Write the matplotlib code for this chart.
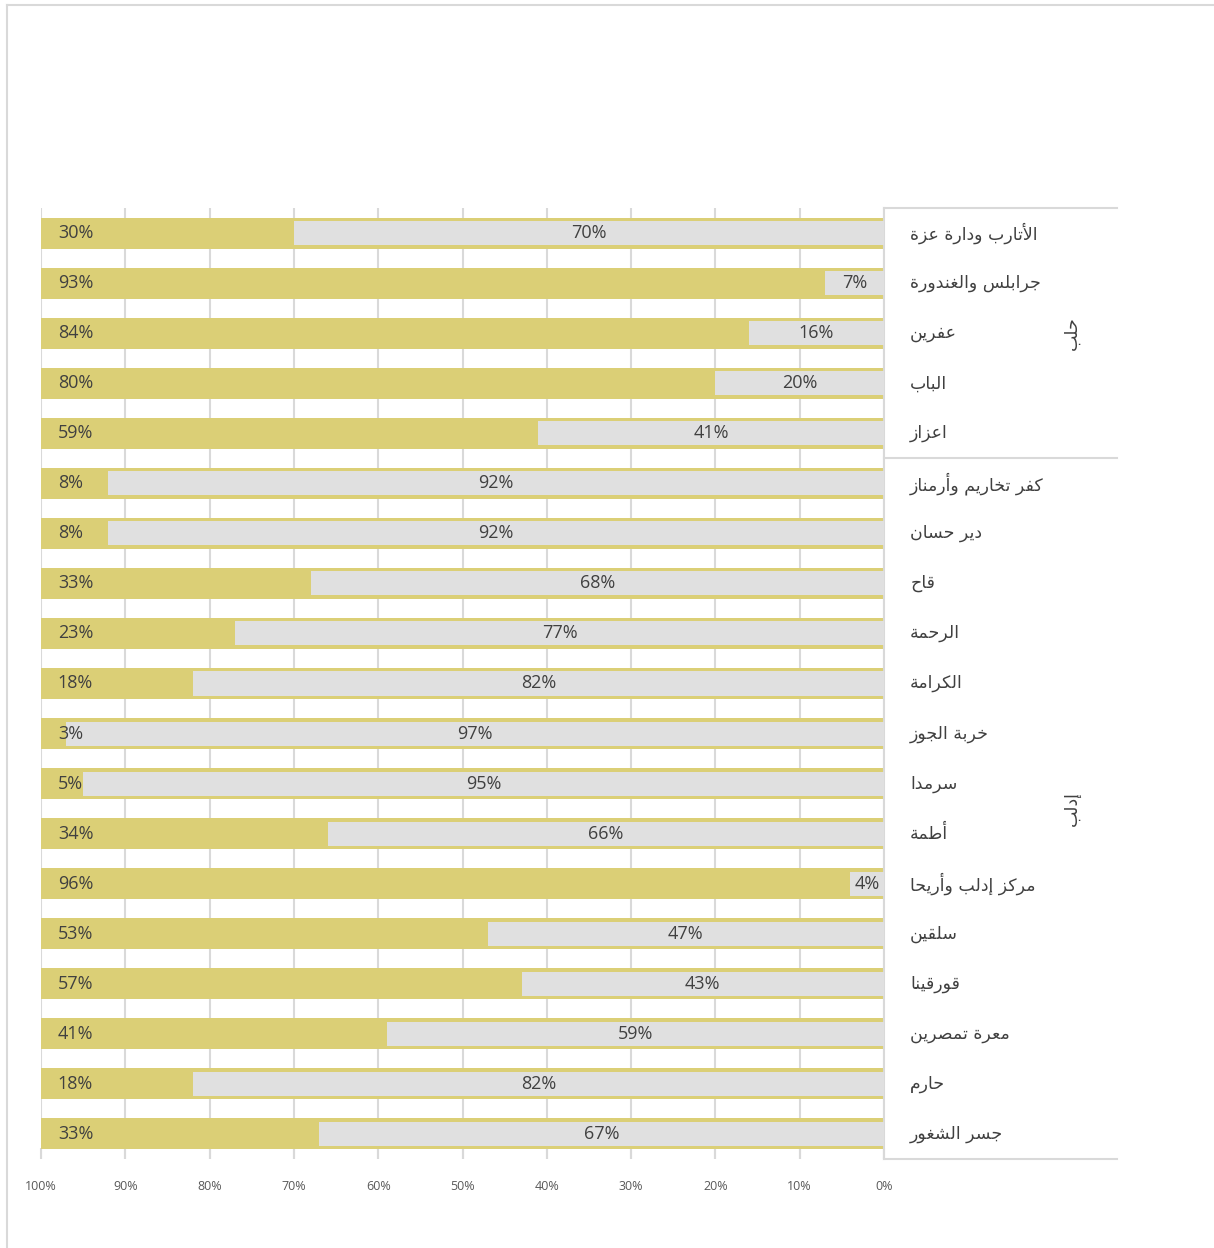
import matplotlib
matplotlib.use("Agg")
import matplotlib.pyplot as plt
from matplotlib.lines import Line2D
import matplotlib.transforms as mtransforms

# Data (top to bottom)
labels = ['الأتارب ودارة عزة', 'جرابلس والغندورة', 'عفرين', 'الباب', 'اعزاز',
          'كفر تخاريم وأرمناز', 'دير حسان', 'قاح', 'الرحمة', 'الكرامة',
          'خربة الجوز', 'سرمدا', 'أطمة', 'مركز إدلب وأريحا', 'سلقين',
          'قورقينا', 'معرة تمصرين', 'حارم', 'جسر الشغور']
gold = [30, 93, 84, 80, 59, 8, 8, 33, 23, 18, 3, 5, 34, 96, 53, 57, 41, 18, 33]
gray = [70, 7, 16, 20, 41, 92, 92, 68, 77, 82, 97, 95, 66, 4, 47, 43, 59, 82, 67]
groups = ['حلب', 'إدلب']
group_sizes = [5, 14]
ticks = [100, 90, 80, 70, 60, 50, 40, 30, 20, 10, 0]

GOLD = '#dbcf76'
GRAY = '#e0e0e0'
LINE = '#d9d9d9'
TXT = '#404040'

# Arabic shaping: matplotlib has no text shaping, so map to presentation forms
FORMS = {
    'ا': (0xFE8D, 0xFE8E, None, None), 'أ': (0xFE83, 0xFE84, None, None),
    'إ': (0xFE87, 0xFE88, None, None), 'آ': (0xFE81, 0xFE82, None, None),
    'ب': (0xFE8F, 0xFE90, 0xFE91, 0xFE92), 'ة': (0xFE93, 0xFE94, None, None),
    'ت': (0xFE95, 0xFE96, 0xFE97, 0xFE98), 'ج': (0xFE9D, 0xFE9E, 0xFE9F, 0xFEA0),
    'ح': (0xFEA1, 0xFEA2, 0xFEA3, 0xFEA4), 'خ': (0xFEA5, 0xFEA6, 0xFEA7, 0xFEA8),
    'د': (0xFEA9, 0xFEAA, None, None), 'ر': (0xFEAD, 0xFEAE, None, None),
    'ز': (0xFEAF, 0xFEB0, None, None), 'س': (0xFEB1, 0xFEB2, 0xFEB3, 0xFEB4),
    'ش': (0xFEB5, 0xFEB6, 0xFEB7, 0xFEB8), 'ص': (0xFEB9, 0xFEBA, 0xFEBB, 0xFEBC),
    'ط': (0xFEC1, 0xFEC2, 0xFEC3, 0xFEC4), 'ع': (0xFEC9, 0xFECA, 0xFECB, 0xFECC),
    'غ': (0xFECD, 0xFECE, 0xFECF, 0xFED0), 'ف': (0xFED1, 0xFED2, 0xFED3, 0xFED4),
    'ق': (0xFED5, 0xFED6, 0xFED7, 0xFED8), 'ك': (0xFED9, 0xFEDA, 0xFEDB, 0xFEDC),
    'ل': (0xFEDD, 0xFEDE, 0xFEDF, 0xFEE0), 'م': (0xFEE1, 0xFEE2, 0xFEE3, 0xFEE4),
    'ن': (0xFEE5, 0xFEE6, 0xFEE7, 0xFEE8), 'ه': (0xFEE9, 0xFEEA, 0xFEEB, 0xFEEC),
    'و': (0xFEED, 0xFEEE, None, None), 'ي': (0xFEF1, 0xFEF2, 0xFEF3, 0xFEF4),
}
LAMALEF = {'آ': (0xFEF5, 0xFEF6), 'أ': (0xFEF7, 0xFEF8),
           'إ': (0xFEF9, 0xFEFA), 'ا': (0xFEFB, 0xFEFC)}


def shape(s):
    res = []
    i = 0
    n = len(s)
    while i < n:
        c = s[i]
        if c not in FORMS:
            res.append(c)
            i += 1
            continue
        prev = s[i - 1] if i > 0 else None
        joins_prev = prev in FORMS and FORMS[prev][2] is not None
        if c == 'ل' and i + 1 < n and s[i + 1] in LAMALEF:
            iso, fin = LAMALEF[s[i + 1]]
            res.append(chr(fin if joins_prev else iso))
            i += 2
            continue
        nxt = s[i + 1] if i + 1 < n else None
        iso, fin, ini, med = FORMS[c]
        joins_next = ini is not None and nxt in FORMS
        if joins_prev and joins_next:
            g = med
        elif joins_prev:
            g = fin
        elif joins_next:
            g = ini
        else:
            g = iso
        res.append(chr(g))
        i += 1
    return ''.join(res)[::-1]


plt.rcParams['font.family'] = ['Open Sans', 'DejaVu Sans']

W, H = 1214, 1248
fig = plt.figure(figsize=(W / 100, H / 100), dpi=100)
ax = fig.add_axes([41 / W, (H - 1159) / H, 843 / W, (1159 - 208) / H])

y = list(range(len(labels)))
totals = [g + r for g, r in zip(gold, gray)]
ax.barh(y, totals, height=0.62, color=GOLD, zorder=2)
ax.barh(y, gray, height=0.48, color=GRAY, zorder=3)

for i in y:
    ax.text(98, i, f'{gold[i]}%', ha='left', va='center', fontsize=13, color=TXT, zorder=4)
    ax.text(gray[i] / 2, i, f'{gray[i]}%', ha='center', va='center', fontsize=13, color=TXT, zorder=4)

ax.set_xlim(100, 0)
ax.set_ylim(len(labels) - 0.5, -0.5)
ax.set_yticks([])
ax.set_xticks(ticks)
ax.set_xticklabels([f'{t}%' for t in ticks], fontsize=9, color='#595959')
ax.tick_params(axis='x', direction='in', length=8, width=1.5, color=LINE, pad=15)
ax.grid(axis='x', color=LINE, linewidth=1.5, zorder=0)
ax.set_axisbelow(True)
for s in ['top', 'bottom', 'left']:
    ax.spines[s].set_visible(False)
ax.spines['right'].set_color(LINE)
ax.spines['right'].set_linewidth(1.5)

# category labels and group boxes
trans = mtransforms.blended_transform_factory(ax.transAxes, ax.transData)
for i, lab in enumerate(labels):
    ax.text(1.031, i, shape(lab), transform=trans, ha='left', va='center',
            fontsize=12.5, color=TXT, family=['DejaVu Sans'])

box_right = (1117 - 41) / 843
start = -0.5
ax.plot([1.0, box_right], [start, start], transform=trans, color=LINE, lw=1.5, clip_on=False)
for name, size in zip(groups, group_sizes):
    mid = start + size / 2
    ax.text(1.223, mid, shape(name), transform=trans, rotation=90, ha='center', va='center',
            fontsize=12.5, color=TXT, family=['DejaVu Sans'])
    start += size
    ax.plot([1.0, box_right], [start, start], transform=trans, color=LINE, lw=1.5, clip_on=False)

# outer chart border
fig.add_artist(Line2D([7 / W, 1], [1 - 5 / H, 1 - 5 / H], color=LINE, lw=1.5))
fig.add_artist(Line2D([7 / W, 7 / W], [0, 1 - 5 / H], color=LINE, lw=1.5))

fig.savefig('out.png', dpi=100, facecolor='white')
